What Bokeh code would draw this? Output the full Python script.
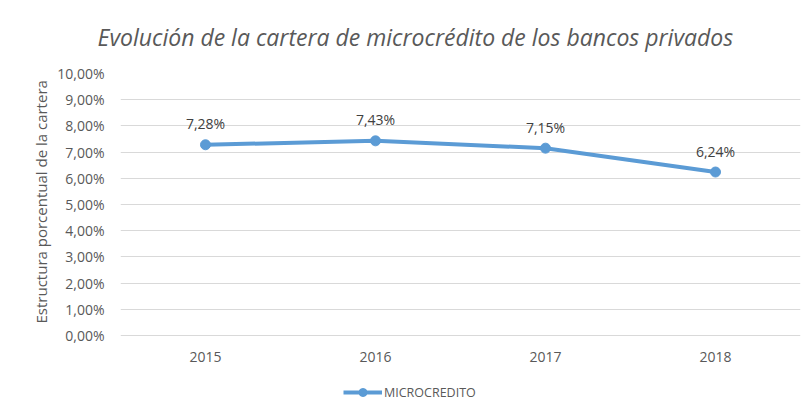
from bokeh.plotting import figure
from bokeh.models import Range1d, FixedTicker, Legend, LegendItem, ColumnDataSource, Title
from bokeh.embed import file_html
from bokeh.resources import INLINE
from bokeh.core.properties import value

# ---- data ----
years = ["2015", "2016", "2017", "2018"]
microcredito = [0.0728, 0.0743, 0.0715, 0.0624]
y_ticks = [0.00, 0.01, 0.02, 0.03, 0.04, 0.05, 0.06, 0.07, 0.08, 0.09, 0.10]
y_tick_labels = ["0,00%", "1,00%", "2,00%", "3,00%", "4,00%", "5,00%",
                 "6,00%", "7,00%", "8,00%", "9,00%", "10,00%"]
title_text = "Evolución de la cartera de microcrédito de los bancos privados"
y_label = "Estructura porcentual de la cartera"
series_name = "MICROCREDITO"

FONT = "Open Sans"
GRID = "#d9d9d9"
TXT = "#595959"
LINE = "#5b9bd5"

labels = [("%.2f%%" % (v * 100)).replace(".", ",") for v in microcredito]
src = ColumnDataSource(dict(x=years, y=microcredito, lab=labels))
zero = [0.0] * len(years)
xsrc = ColumnDataSource(dict(x=years, y=zero))

# frame: 10% at 73px, 0% at 335px, frame bottom at 410px (legend area inside frame)
px_per_unit = 262 / 0.10
y_start = -(410 - 335) / px_per_unit

p = figure(x_range=years, y_range=Range1d(y_start, 0.10),
           width=802, height=410, output_backend="svg", toolbar_location=None,
           x_axis_location=None,
           min_border_left=120, min_border_right=2, min_border_top=73,
           min_border_bottom=0)
p.outline_line_color = None
p.background_fill_color = "white"
p.border_fill_color = "white"

# title
p.title.text = title_text
p.title.align = "left"
p.title.vertical_align = "top"
p.title.offset = -23
p.title.standoff = 38
p.title.text_font = FONT
p.title.text_font_size = "23px"
p.title.text_font_style = "italic"
p.title.text_color = TXT

# grid
p.xgrid.grid_line_color = None
p.ygrid.ticker = FixedTicker(ticks=y_ticks)
p.ygrid.grid_line_color = GRID
p.ygrid.grid_line_width = 1

# y axis
p.yaxis.ticker = FixedTicker(ticks=y_ticks)
p.yaxis.major_label_overrides = {t: l for t, l in zip(y_ticks, y_tick_labels)}
p.yaxis.axis_line_color = None
p.yaxis.major_tick_line_color = None
p.yaxis.minor_tick_line_color = None
p.yaxis.major_label_text_font = FONT
p.yaxis.major_label_text_font_size = "14px"
p.yaxis.major_label_text_color = TXT
p.yaxis.major_label_standoff = 10

# y axis title (placed along the 0%..10% span)
p.add_layout(Title(text=y_label, align="left", offset=87, standoff=8,
                   text_font=FONT, text_font_size="15px", text_font_style="normal",
                   text_color=TXT), "left")

# category labels under the 0% line
p.text("x", "y", text="x", source=xsrc, text_align="center", text_baseline="middle",
       y_offset=21, text_font=value(FONT), text_font_size="14px", text_color=TXT)

# series
r_line = p.line("x", "y", source=src, line_color=LINE, line_width=4)
r_pts = p.scatter("x", "y", source=src, size=10, fill_color=LINE, line_color=LINE)

p.text("x", "y", text="lab", source=src, text_align="center", text_baseline="middle",
       y_offset=-21, text_font=value(FONT), text_font_size="14px", text_color="#404040")

# legend
legend = Legend(items=[LegendItem(label=series_name, renderers=[r_line, r_pts])],
                location=(223, 8), orientation="horizontal",
                glyph_width=39, glyph_height=20, label_height=20, label_standoff=2,
                padding=0, margin=0, spacing=0,
                label_text_font=FONT, label_text_font_size="12.5px",
                label_text_color=TXT, border_line_color=None,
                background_fill_alpha=0)
p.add_layout(legend, "center")

open("out.html", "w").write(file_html(p, INLINE))
